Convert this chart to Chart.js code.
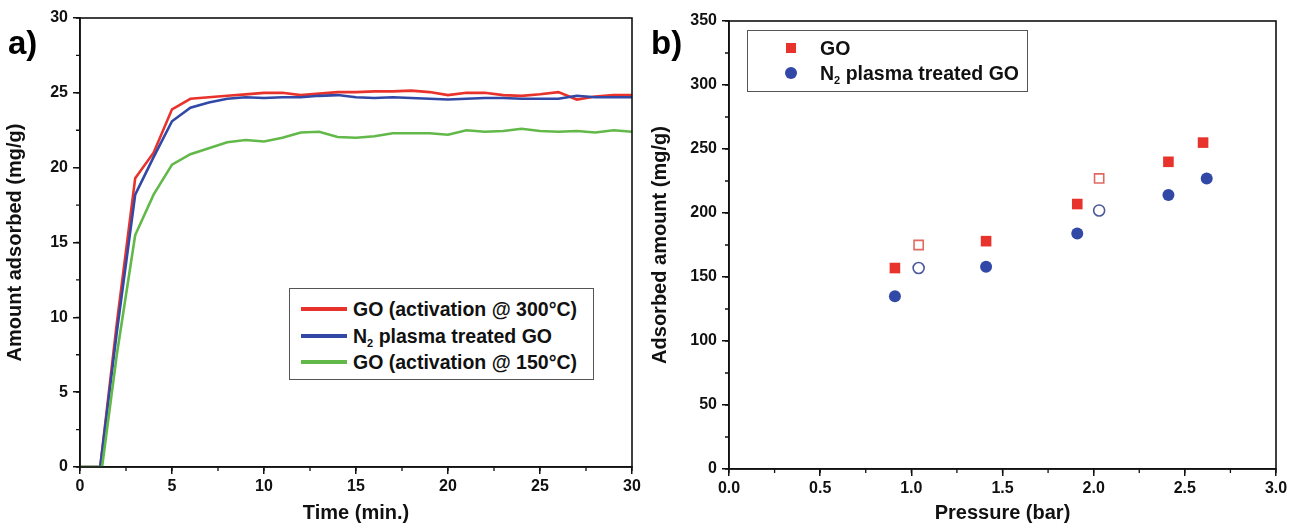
<!DOCTYPE html>
<html>
<head>
<meta charset="utf-8">
<script src="https://cdn.jsdelivr.net/npm/chart.js@4/dist/chart.umd.min.js"></script>
<style>
  html, body { margin:0; padding:0; background:#fff; }
  #wrap { position:relative; width:1292px; height:527px; overflow:hidden;
          font-family:"Liberation Sans Narrow","Arial Narrow","Liberation Sans",Arial,sans-serif; font-weight:bold; }
  canvas { position:absolute; top:0; }
  #cA { left:0; }
  #cB { left:645px; }
  .panel { position:absolute; font-size:33px; font-weight:bold; color:#000; }
  .legend { position:absolute; border:1px solid #555; background:#fff; font-size:19.5px; color:#111; }
  .row { position:absolute; left:0; white-space:nowrap; height:22px; line-height:22px; }
  .sw { position:absolute; top:9px; width:46px; height:4px; }
  .txt { position:absolute; top:0; }
  sub { font-size:11px; vertical-align:-4px; line-height:0; }
  .mk { position:absolute; }
</style>
</head>
<body>
<div id="wrap">
  <canvas id="cA" width="645" height="527"></canvas>
  <canvas id="cB" width="647" height="527"></canvas>
  <div class="panel" style="left:8px;top:24px;">a)</div>
  <div class="panel" style="left:651px;top:24px;">b)</div>

  <div class="legend" style="left:289px;top:288px;width:303px;height:90px;">
    <div class="row" style="top:9px;"><div class="sw" style="left:11px;background:#e8332c;"></div><div class="txt" style="left:63px;">GO (activation @ 300°C)</div></div>
    <div class="row" style="top:36px;"><div class="sw" style="left:11px;background:#3148a6;"></div><div class="txt" style="left:63px;">N<sub>2</sub> plasma treated GO</div></div>
    <div class="row" style="top:62px;"><div class="sw" style="left:11px;background:#62b94a;"></div><div class="txt" style="left:63px;">GO (activation @ 150°C)</div></div>
  </div>

  <div class="legend" style="left:747px;top:30px;width:279px;height:60px;">
    <div class="row" style="top:6px;"><div class="mk" style="left:38px;top:6px;width:10px;height:10px;background:#e8332c;"></div><div class="txt" style="left:72px;">GO</div></div>
    <div class="row" style="top:31px;"><div class="mk" style="left:37px;top:5px;width:12px;height:12px;border-radius:6px;background:#3148a6;"></div><div class="txt" style="left:72px;">N<sub>2</sub> plasma treated GO</div></div>
  </div>
</div>
<script>
// ---- Panel a) data ----
const timeMin = [0, 1.1, 2, 3, 4, 5, 6, 7, 8, 9, 10, 11, 12, 13, 14, 15, 16, 17, 18, 19, 20, 21, 22, 23, 24, 25, 26, 27, 28, 29, 30];
const go300 = [0, 0, 9.6, 19.3, 21.0, 23.9, 24.6, 24.7, 24.8, 24.9, 25.0, 25.0, 24.85, 24.95, 25.05, 25.05, 25.1, 25.1, 25.15, 25.05, 24.85, 25.0, 25.0, 24.85, 24.8, 24.9, 25.05, 24.55, 24.75, 24.85, 24.85];
const n2Plasma = [0, 0, 9.0, 18.2, 20.7, 23.1, 24.0, 24.35, 24.6, 24.7, 24.65, 24.7, 24.7, 24.8, 24.85, 24.7, 24.65, 24.7, 24.65, 24.6, 24.55, 24.6, 24.65, 24.65, 24.6, 24.6, 24.6, 24.8, 24.7, 24.7, 24.7];
const timeMinGreen = [0, 1.2, 2, 3, 4, 5, 6, 7, 8, 9, 10, 11, 12, 13, 14, 15, 16, 17, 18, 19, 20, 21, 22, 23, 24, 25, 26, 27, 28, 29, 30];
const go150 = [0, 0, 7.5, 15.5, 18.2, 20.2, 20.9, 21.3, 21.7, 21.85, 21.75, 22.0, 22.35, 22.4, 22.05, 22.0, 22.1, 22.3, 22.3, 22.3, 22.2, 22.5, 22.4, 22.45, 22.6, 22.45, 22.4, 22.45, 22.35, 22.5, 22.4];
const timeTicks = [0, 5, 10, 15, 20, 25, 30];
const amountTicks = [0, 5, 10, 15, 20, 25, 30];

// ---- Panel b) data ----
const pressureGO = [0.91, 1.41, 1.91, 2.41, 2.60];
const adsorbedGO = [157, 178, 207, 240, 255];
const pressureGOopen = [1.04, 2.03];
const adsorbedGOopen = [175, 227];
const pressureN2 = [0.91, 1.41, 1.91, 2.41, 2.62];
const adsorbedN2 = [135, 158, 184, 214, 227];
const pressureN2open = [1.04, 2.03];
const adsorbedN2open = [157, 202];
const pressureTicks = [0, 0.5, 1.0, 1.5, 2.0, 2.5, 3.0];
const adsorbedTicks = [0, 50, 100, 150, 200, 250, 300, 350];

const FONT = '"Liberation Sans Narrow","Arial Narrow","Liberation Sans",Arial,sans-serif';
const RED = '#e8332c', BLUE = '#3148a6', GREEN = '#62b94a';

const pts = (xs, ys) => xs.map((x, i) => ({x: x, y: ys[i]}));

// frame + minor ticks plugin
const framePlugin = {
  id: 'frame',
  afterDraw(chart, args, opts) {
    const {ctx, chartArea: a, scales} = chart;
    ctx.save();
    ctx.strokeStyle = '#111';
    ctx.lineWidth = 1.6;
    ctx.strokeRect(a.left, a.top, a.right - a.left, a.bottom - a.top);
    ctx.lineWidth = 1.3;
    const xs = scales.x, ys = scales.y;
    ctx.beginPath();
    for (let v = xs.min; v <= xs.max + 1e-9; v += opts.xMinor) {
      const px = xs.getPixelForValue(v);
      ctx.moveTo(px, a.bottom); ctx.lineTo(px, a.bottom + 4);
    }
    for (let v = ys.min; v <= ys.max + 1e-9; v += opts.yMinor) {
      const py = ys.getPixelForValue(v);
      ctx.moveTo(a.left, py); ctx.lineTo(a.left - 4, py);
    }
    ctx.stroke();
    ctx.restore();
  }
};

function axisCommon(min, max, ticksArr, title, fixed, isX, decimals) {
  return {
    type: 'linear', min: min, max: max,
    afterBuildTicks: s => { s.ticks = ticksArr.map(v => ({value: v})); },
    afterFit: s => { if (isX) s.height = fixed; else s.width = fixed; },
    grid: { drawOnChartArea: false, drawTicks: true, tickLength: 7, color: '#111', tickWidth: 1.5, lineWidth: 1.5 },
    border: { display: true, color: '#111', width: 1.6 },
    ticks: {
      color: '#111', padding: isX ? 3 : 5,
      font: { family: FONT, size: 16, weight: 'bold' },
      callback: v => decimals ? Number(v).toFixed(decimals) : v,
      maxRotation: 0, autoSkip: false
    },
    title: { display: true, text: title, color: '#111', padding: {top: 3, bottom: 2},
             font: { family: FONT, size: 20, weight: 'bold' } }
  };
}

new Chart(document.getElementById('cA'), {
  type: 'scatter',
  data: {
    datasets: [
      { label: 'GO (activation @ 150°C)', data: pts(timeMinGreen, go150), showLine: true, borderColor: GREEN, borderWidth: 2.6, pointRadius: 0, tension: 0 },
      { label: 'N₂ plasma treated GO', data: pts(timeMin, n2Plasma), showLine: true, borderColor: BLUE, borderWidth: 2.6, pointRadius: 0, tension: 0 },
      { label: 'GO (activation @ 300°C)', data: pts(timeMin, go300), showLine: true, borderColor: RED, borderWidth: 2.6, pointRadius: 0, tension: 0 }
    ]
  },
  options: {
    responsive: false, animation: false,
    layout: { padding: { left: 0, right: 13, top: 18, bottom: 0 } },
    plugins: { legend: { display: false }, tooltip: { enabled: false }, frame: { xMinor: 2.5, yMinor: 2.5 } },
    scales: {
      x: axisCommon(0, 30, timeTicks, 'Time (min.)', 60, true, 0),
      y: axisCommon(0, 30, amountTicks, 'Amount adsorbed (mg/g)', 80, false, 0)
    }
  },
  plugins: [framePlugin]
});

new Chart(document.getElementById('cB'), {
  type: 'scatter',
  data: {
    datasets: [
      { label: 'GO', data: pts(pressureGO, adsorbedGO), pointStyle: 'rect', pointRadius: 7.5, backgroundColor: RED, borderColor: RED, borderWidth: 0 },
      { label: 'GO (open)', data: pts(pressureGOopen, adsorbedGOopen), pointStyle: 'rect', pointRadius: 6.5, backgroundColor: '#fff', borderColor: '#e06a62', borderWidth: 1.6 },
      { label: 'N₂ plasma treated GO', data: pts(pressureN2, adsorbedN2), pointStyle: 'circle', pointRadius: 6, backgroundColor: BLUE, borderColor: BLUE, borderWidth: 0 },
      { label: 'N₂ plasma treated GO (open)', data: pts(pressureN2open, adsorbedN2open), pointStyle: 'circle', pointRadius: 5.5, backgroundColor: '#fff', borderColor: '#4a5a9a', borderWidth: 1.6 }
    ]
  },
  options: {
    responsive: false, animation: false,
    layout: { padding: { left: 0, right: 16, top: 21, bottom: 0 } },
    plugins: { legend: { display: false }, tooltip: { enabled: false }, frame: { xMinor: 0.25, yMinor: 25 } },
    scales: {
      x: axisCommon(0, 3, pressureTicks, 'Pressure (bar)', 58, true, 1),
      y: axisCommon(0, 350, adsorbedTicks, 'Adsorbed amount (mg/g)', 84, false, 0)
    }
  },
  plugins: [framePlugin]
});
</script>
</body>
</html>
